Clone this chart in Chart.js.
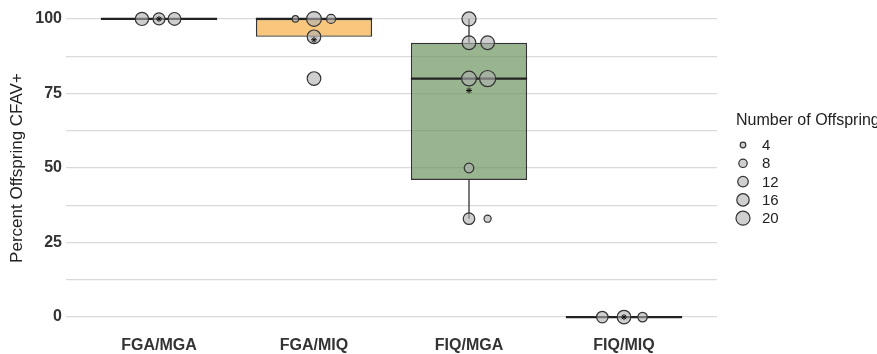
<!DOCTYPE html>
<html>
<head>
<meta charset="utf-8">
<script src="https://cdn.jsdelivr.net/npm/chart.js@4"></script>
<style>
  body { margin: 0; background: #fff; overflow: hidden; }
</style>
</head>
<body>
<canvas id="offspringChart" width="877" height="354"></canvas>
<script>
// categorias e estatisticas das caixas
const categories = ["FGA/MGA", "FGA/MIQ", "FIQ/MGA", "FIQ/MIQ"];
const q1 = [100, 94, 46, 0];
const medians = [100, 100, 80, 0];
const q3 = [100, 100, 92, 0];
const whiskerLow = [100, 94, 33, 0];
const whiskerHigh = [100, 100, 100, 0];
const means = [100, 93, 76, 0];

// pontos individuais (grupo, deslocamento lateral, valor, numero de filhotes)
const pointGroup = [0, 0, 0, 1, 1, 1, 1, 1, 2, 2, 2, 2, 2, 2, 2, 2, 3, 3, 3];
const pointDodge = [-0.11, 0, 0.1, -0.12, 0, 0.11, 0, 0, 0, 0, 0.12, 0, 0.12, 0, 0, 0.12, -0.14, 0, 0.12];
const pointValues = [100, 100, 100, 100, 100, 100, 94, 80, 100, 92, 92, 80, 80, 50, 33, 33, 0, 0, 0];
const pointOffspring = [18, 15, 17, 5, 22, 9, 19, 19, 20, 19, 19, 22, 26, 10, 14, 6, 14, 19, 10];

const legendSizes = [4, 8, 12, 16, 20];
const yTicks = [0, 12.5, 25, 37.5, 50, 62.5, 75, 87.5, 100];

const FONT = "'Liberation Sans', Arial, sans-serif";
const POINT_FILL = "rgba(175,175,175,0.6)";
const POINT_EDGE = "#333";

function sizeToRadius(n) {
    return 1.7 * Math.sqrt(n) - 0.6;
}

// whiskers e medianas desenhados logo apos as caixas
const boxExtras = {
    id: "boxExtras",
    afterDatasetDraw(chart, args) {
        if (args.meta.type !== "bar") return;
        const ctx = chart.ctx;
        const y = chart.scales.y;
        ctx.save();
        args.meta.data.forEach((bar, i) => {
            ctx.strokeStyle = "#333";
            ctx.lineWidth = 1.3;
            ctx.beginPath();
            ctx.moveTo(bar.x, y.getPixelForValue(q3[i]));
            ctx.lineTo(bar.x, y.getPixelForValue(whiskerHigh[i]));
            ctx.moveTo(bar.x, y.getPixelForValue(q1[i]));
            ctx.lineTo(bar.x, y.getPixelForValue(whiskerLow[i]));
            ctx.stroke();

            ctx.strokeStyle = "#222";
            ctx.lineWidth = 2.2;
            ctx.beginPath();
            const my = y.getPixelForValue(medians[i]);
            ctx.moveTo(bar.x - bar.width / 2, my);
            ctx.lineTo(bar.x + bar.width / 2, my);
            ctx.stroke();
        });
        ctx.restore();
    }
};

// legenda de tamanho desenhada a mao
const sizeLegend = {
    id: "sizeLegend",
    afterDraw(chart) {
        const ctx = chart.ctx;
        const x0 = chart.chartArea.right + 19;
        ctx.save();
        ctx.fillStyle = "#222";
        ctx.font = "16px " + FONT;
        ctx.textBaseline = "alphabetic";
        ctx.fillText("Number of Offspring", x0, 125);
        ctx.font = "15px " + FONT;
        ctx.textBaseline = "middle";
        legendSizes.forEach((n, i) => {
            const cy = 145 + i * 18.3;
            ctx.beginPath();
            ctx.arc(x0 + 7, cy, sizeToRadius(n), 0, Math.PI * 2);
            ctx.fillStyle = POINT_FILL;
            ctx.fill();
            ctx.lineWidth = 1.2;
            ctx.strokeStyle = POINT_EDGE;
            ctx.stroke();
            ctx.fillStyle = "#222";
            ctx.fillText(String(n), x0 + 26, cy + 1);
        });
        ctx.restore();
    }
};

const points = pointValues.map((v, i) => ({ x: pointGroup[i] + 1 + pointDodge[i], y: v }));
const meanPoints = means.map((v, i) => ({ x: i + 1, y: v }));
const boxes = categories.map((c, i) => ({ x: i + 1, y: [q1[i], q3[i]] }));

new Chart(document.getElementById("offspringChart"), {
    type: "bar",
    data: {
        datasets: [
            {
                type: "bar",
                data: boxes,
                order: 3,
                backgroundColor: ["rgba(0,0,0,0)", "rgba(245,175,70,0.7)", "rgba(110,150,95,0.7)", "rgba(0,0,0,0)"],
                borderColor: ["rgba(0,0,0,0)", "#333", "#333", "rgba(0,0,0,0)"],
                borderWidth: 1.4,
                borderSkipped: false,
                barPercentage: 0.75,
                categoryPercentage: 1
            },
            {
                type: "scatter",
                data: points,
                order: 2,
                pointRadius: pointOffspring.map(sizeToRadius),
                backgroundColor: POINT_FILL,
                borderColor: POINT_EDGE,
                borderWidth: 1.2
            },
            {
                type: "scatter",
                data: meanPoints,
                order: 1,
                pointStyle: "star",
                pointRadius: 3,
                borderColor: "#111",
                borderWidth: 1
            }
        ]
    },
    options: {
        responsive: false,
        animation: false,
        devicePixelRatio: 1,
        layout: { autoPadding: false, padding: { top: 4, right: 160, left: 0, bottom: 0 } },
        plugins: { legend: { display: false }, tooltip: { enabled: false } },
        scales: {
            x: {
                type: "linear",
                min: 0.4,
                max: 4.6,
                offset: false,
                afterBuildTicks(scale) { scale.ticks = categories.map((c, i) => ({ value: i + 1 })); },
                afterFit(scale) {
                    scale.height = 22;
                    scale.paddingLeft = 0;
                    scale.paddingRight = 0;
                },
                ticks: {
                    callback: (v) => categories[v - 1],
                    font: { family: FONT, size: 16, weight: "bold" },
                    color: "#333",
                    padding: -4,
                    maxRotation: 0
                },
                grid: { display: false, offset: false },
                border: { display: false }
            },
            y: {
                min: -5,
                max: 105,
                afterBuildTicks(scale) { scale.ticks = yTicks.map(v => ({ value: v })); },
                afterFit(scale) {
                    scale.width = 66;
                    scale.paddingTop = 0;
                    scale.paddingBottom = 0;
                },
                ticks: {
                    callback: (v) => (v % 25 === 0 ? v : ""),
                    font: { family: FONT, size: 16, weight: "bold" },
                    color: "#333",
                    padding: 4
                },
                grid: { color: "#dadada", lineWidth: 1.3, drawTicks: false },
                border: { display: false },
                title: {
                    display: true,
                    text: "Percent Offspring CFAV+",
                    font: { family: FONT, size: 17 },
                    color: "#222",
                    padding: { top: 7, bottom: 0 }
                }
            }
        }
    },
    plugins: [boxExtras, sizeLegend]
});
</script>
</body>
</html>
